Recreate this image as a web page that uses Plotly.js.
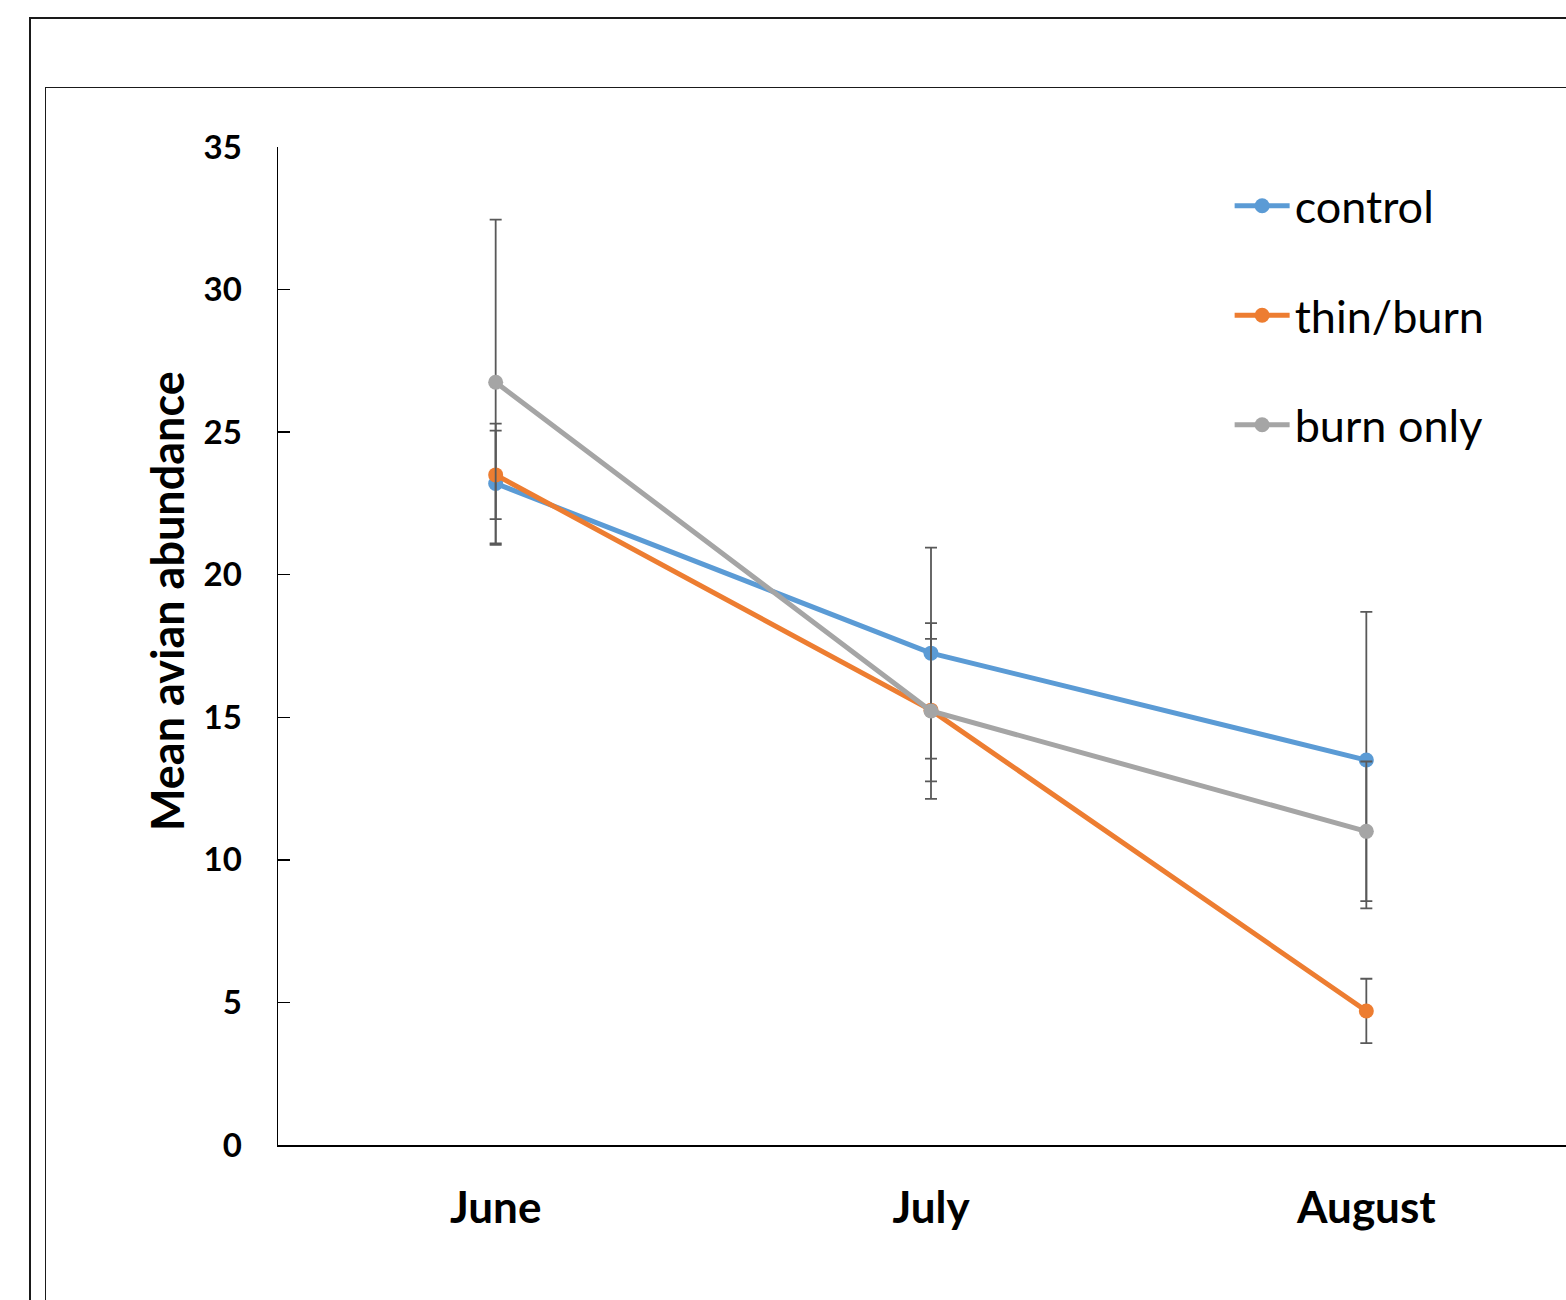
<!DOCTYPE html>
<html>
<head>
<meta charset="utf-8">
<script src="https://cdn.plot.ly/plotly-3.0.1.min.js"></script>
<style>
  html, body { margin: 0; padding: 0; background: #fff; overflow: hidden; width: 1566px; height: 1300px; }
  #outer { position: absolute; left: 29px; top: 17px; width: 1700px; height: 1400px; border: 2px solid #1a1a1a; box-sizing: border-box; }
  #inner { position: absolute; left: 45px; top: 87px; width: 1700px; height: 1400px; border: 1.5px solid #1a1a1a; box-sizing: border-box; }
  #chart { position: absolute; left: 0; top: 0; width: 1620px; height: 1340px; }
</style>
</head>
<body>
<div id="outer"></div>
<div id="inner"></div>
<div id="chart"></div>
<script>
const months = ["June", "July", "August"];
const seriesNames = ["control", "thin/burn", "burn only"];
const control = [23.2, 17.25, 13.5];
const thinBurn = [23.5, 15.25, 4.7];
const burnOnly = [26.75, 15.22, 11.0];
const controlErr = [2.1, 3.7, 5.2];
const thinBurnErr = [1.55, 2.5, 1.13];
const burnOnlyErr = [5.7, 3.08, 2.45];
const yTitle = "Mean avian abundance";

const colors = ["#5B9BD5", "#ED7D31", "#A5A5A5"];
const FONT = "Lato, Carlito, Calibri, 'Open Sans', sans-serif";

function mk(name, y, err, color, idx) {
  return {
    type: "scatter",
    mode: "lines+markers",
    name: name,
    legendgroup: "g" + idx,
    x: months,
    y: y,
    line: { color: color, width: 5 },
    marker: { color: color, size: 15 },
    error_y: { type: "data", array: err, visible: true, color: "#595959", thickness: 1.8, width: 6 }
  };
}

const data = [
  mk(seriesNames[0], control, controlErr, colors[0], 0),
  mk(seriesNames[1], thinBurn, thinBurnErr, colors[1], 1),
  mk(seriesNames[2], burnOnly, burnOnlyErr, colors[2], 2)
];

const W = 1620, H = 1340;
const L = 278, T = 147, plotW = 1306.5, plotH = 998;

const layout = {
  width: W, height: H,
  margin: { l: L, t: T, r: W - L - plotW, b: H - T - plotH, pad: 0 },
  paper_bgcolor: "rgba(0,0,0,0)",
  plot_bgcolor: "rgba(0,0,0,0)",
  font: { family: FONT, color: "#000" },
  showlegend: true,
  legend: {
    x: (1230 - L) / plotW, xanchor: "left",
    y: 1 - (170 - T) / plotH, yanchor: "top",
    font: { size: 45, family: FONT, color: "#000" },
    traceorder: "grouped",
    tracegroupgap: 48,
    itemwidth: 55,
    bgcolor: "rgba(0,0,0,0)",
    borderwidth: 0
  },
  xaxis: {
    type: "category",
    range: [-0.5, 2.5],
    showline: true, linecolor: "#000", linewidth: 2,
    ticks: "", showgrid: false, zeroline: false,
    tickfont: { size: 44, family: FONT, weight: "bold", color: "#000" },
    ticklabelstandoff: 23
  },
  yaxis: {
    range: [0, 35], dtick: 5, tick0: 0,
    showline: true, linecolor: "#000", linewidth: 1.5,
    ticks: "inside", ticklen: 12, tickwidth: 1.5, tickcolor: "#000",
    showgrid: false, zeroline: false,
    tickfont: { size: 33, family: FONT, weight: "bold", color: "#000" },
    ticklabelstandoff: 28
  },
  annotations: [{
    text: yTitle,
    xref: "paper", yref: "paper",
    x: (167 - L) / plotW, y: 1 - (601 - T) / plotH,
    xanchor: "center", yanchor: "middle",
    textangle: -90, showarrow: false,
    font: { size: 45, family: FONT, weight: "bold", color: "#000" }
  }]
};

Plotly.newPlot("chart", data, layout, { displayModeBar: false, staticPlot: true });
</script>
</body>
</html>
